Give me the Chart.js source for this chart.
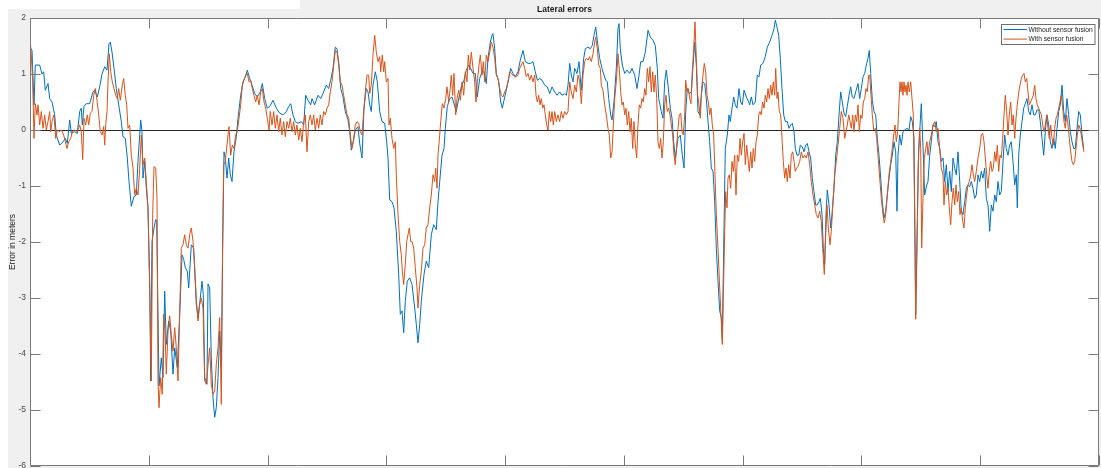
<!DOCTYPE html>
<html>
<head>
<meta charset="utf-8">
<title>Lateral errors</title>
<script src="https://cdn.jsdelivr.net/npm/chart.js@4/dist/chart.umd.min.js"></script>
<style>
  html, body { margin: 0; padding: 0; background: #ffffff; }
  canvas { display: block; }
</style>
</head>
<body>
<canvas id="chart" width="1101" height="468"></canvas>
<script>
// ---- labels ----
const chartTitle = 'Lateral errors';
const yAxisLabel = 'Error in meters';
const seriesLabels = ['Without sensor fusion', 'With sensor fusion'];
const seriesColors = ['#0072BD', '#D95319'];

// ---- axes ----
const yMin = -6, yMax = 2, yStep = 1;
const sampleCount = 1069;     // length of the run, in samples
const xTickIntervals = 9;      // evenly spaced x ticks (labels hidden)

// ---- lateral error without sensor fusion (sample, metres) ----
const noFusionT = [
  0,2,4,5.3,9.7,12,13.7,15.3,18,19.7,
  22,24.7,26.3,29.7,33,35.3,37.3,39.7,41.3,44.7,
  47.3,49.7,51.3,52.3,54,56.3,59.7,63,64.7,67.3,
  69.7,72,74.7,77,79,80.3,82,84,86.3,88.7,
  91.3,93,95.3,97.3,99,101.3,104,106.3,108,110.7,
  112,113,114.7,116.3,118,119.7,120.7,122,124,125.7,
  126.7,129,131.3,133,134.7,136.3,138.7,140.7,143,144.7,
  147.3,149.7,152,153.7,155.3,157.3,158.7,161.3,163.7,166.3,
  168,170.3,172,173.3,174.7,177,178,179.7,181.3,183,
  184.7,186.3,188,189.7,191.3,192.7,194,195.3,197,198.7,
  200.3,202,204,206.3,208,210.7,213,215.3,217.3,219.7,
  222,224.7,227.3,230.3,232.3,234.7,237.3,239.7,243,246.3,
  249.7,253,256.3,258.7,260.7,263,265.3,268,271.3,273.7,
  275.7,278,280.7,282,284.7,288,290.7,293,296.3,298.7,
  300.7,303,305.3,307,309,310.7,313,315.3,318,319.7,
  321.3,323.3,325.3,328,329.7,332,334,336.3,338,339.7,
  341.3,343,345.3,347.3,349.7,352,354.7,356.7,358,359.7,
  362,364,366.3,368.7,370.3,372,373.7,375.3,377.3,379.7,
  382,384.7,386.3,388,389.7,391.3,394,396.3,398.7,401.3,
  403.7,406.3,408,410.3,412,414,415.3,417.3,419.7,422,
  424,426.3,428.7,431.3,434,436.3,438.7,440.7,443,445.3,
  447.3,449.7,452,454,456.3,458,460.3,462,463,464.7,
  466.3,468.7,470.7,472.3,474,476.3,478.7,480.7,483,485.3,
  488,490.3,493,495.3,498,500.7,503,505.3,507.3,509.7,
  512,514.7,517.3,519.7,522,524.7,527,529.7,532,534.7,
  536.3,538,539.7,541.3,543,544.7,547,549,551.3,553.7,
  555.3,558,560.3,562.3,564,565.7,567.3,569.7,572,574,
  575.7,577.3,578.7,580.7,582,584,586.3,588,589,590.3,
  592.3,594.7,597,599.7,602,604.7,607,609,610.7,613,
  615.3,618,620.3,623,625.3,627.3,628.7,631.3,633,634.7,
  636.3,638,640.3,642,643.7,645.3,648,650.3,652.3,654,
  655.7,657.3,659.3,661.3,663.3,664.7,666.3,668,669.7,671.3,
  673,674.7,676.3,678,679.7,681.3,683,684.7,686.3,688,
  689.7,691.3,692.3,693.7,695.3,697.3,699,700.3,701.3,703.7,
  705.3,707,709,710.7,712.3,714,716.3,718,719.7,721.3,
  723,725.3,727.3,729,730.7,733,735.3,737.3,739.7,742,
  744,745.3,747,748.7,750.3,752,753.7,755.3,757.3,759,
  760.7,762.3,764,765.3,767,768.7,770.3,772.3,774,775.7,
  777.3,779,780.7,782.3,784,785.7,787.3,789,790.3,792,
  793.3,794.7,796,797.3,799,800.7,802,804,805.7,807.3,
  809,810.7,812.3,814,815.7,817.3,819,820.7,822.3,824,
  825.7,828,829.7,831.3,833,834.7,836.3,838,839.3,840.7,
  842.3,844,845.7,847.3,849,850.7,852.3,854,855.7,857.3,
  859,860.7,862.3,864,865.7,867,868,869.7,871.3,873,
  874.7,877,879,880.7,882.3,884,885.7,888.5,891.3,893,
  894.7,896.5,898,899.7,901.3,903,904.7,906.3,908,909.7,
  911.3,913,914.7,916.3,918,919.7,921.3,923,924.7,926.3,
  928,929.7,931.3,933,934.7,936.3,938,939.7,941.3,943,
  944.7,946.3,948,949.7,951.3,953,954.7,956.3,958,959.7,
  961.3,963,964.7,966.3,968,969.7,971.3,973,974.7,976.3,
  978,979.7,981.3,983,984.7,986.3,987.3,988.7,990.3,992,
  993.7,995.3,997,998.7,1000.3,1002,1003.7,1005.3,1007,1008.7,
  1010.3,1012,1013.7,1015.3,1017,1018.7,1020.3,1022,1023.7,1025.3,
  1027,1028.7,1030.3,1032,1033.7,1035.3,1037,1038.7,1040.3,1042,
  1043.7,1045.3,1047,1048.7,1050.3,1052,1053.7
];
const noFusionErr = [
  1.48,1.42,0.45,1.16,1.16,1.0,1.04,0.71,0.83,0.56,
  0.5,0.27,-0.09,-0.27,-0.21,-0.15,-0.24,0.18,-0.06,-0.03,
  -0.06,0.33,0.39,0.09,0.42,0.47,0.47,0.68,0.71,0.59,
  0.77,1.0,1.13,1.07,1.54,1.57,1.39,1.1,0.74,0.45,
  0.15,-0.12,-0.15,-0.5,-0.92,-1.36,-1.19,-1.16,-0.56,0.18,
  -0.03,-0.86,-0.56,-1.04,-1.39,-2.7,-4.48,-1.99,-1.75,-1.6,
  -1.63,-4.57,-4.07,-4.42,-2.88,-3.83,-3.41,-3.59,-4.36,-3.89,
  -4.24,-3.29,-2.23,-2.31,-2.46,-2.52,-2.82,-2.05,-2.11,-3.12,
  -3.35,-3.0,-2.7,-2.94,-4.42,-4.54,-2.75,-2.82,-4.07,-4.78,
  -5.13,-4.96,-4.42,-3.59,-4.24,-2.11,-0.39,-0.5,-0.86,-0.5,
  -0.8,-0.92,-0.39,-0.12,0.21,0.62,0.86,0.95,1.07,0.92,
  0.8,0.65,0.59,0.68,0.83,0.56,0.39,0.42,0.53,0.39,
  0.3,0.27,0.33,0.42,0.47,0.27,0.15,0.12,0.15,0.09,
  0.62,0.53,0.45,0.56,0.45,0.62,0.56,0.65,0.8,0.74,
  0.89,1.1,1.48,1.45,1.16,0.74,0.59,0.33,0.18,-0.03,
  -0.36,-0.21,0,0.06,-0.24,-0.5,0.39,0.74,0.68,0.45,
  0.33,0.8,1.04,0.86,0.33,0.15,0.12,-0.21,-0.5,-1.25,
  -1.28,-1.39,-1.81,-2.58,-3.29,-3.23,-3.62,-3.06,-2.7,-2.64,
  -2.76,-3.18,-3.47,-3.8,-3.47,-3.06,-2.58,-2.34,-2.46,-1.87,
  -1.69,-1.78,-1.28,-0.8,-0.45,-0.33,0.03,0.42,0.56,0.59,
  0.47,0.33,0.56,0.77,0.89,1.07,1.16,1.1,1.01,1.01,
  0.59,0.92,1.04,1.04,0.83,1.28,1.57,1.69,1.72,1.45,
  1.01,0.86,0.5,0.39,0.53,0.71,0.92,1.1,1.01,0.95,
  1.04,1.25,1.42,1.22,1.19,1.19,1.22,1.04,0.89,0.92,
  0.89,0.8,0.77,0.65,0.77,0.68,0.62,0.68,0.62,0.65,
  0.62,0.8,1.19,0.98,0.86,1.1,1.01,1.22,0.71,1.28,
  1.45,1.48,1.45,1.51,1.69,1.84,1.6,1.28,1.1,0.98,
  0.89,0.86,0.56,0.27,0.18,0.5,1.1,1.81,1.9,1.45,
  1.16,1.01,1.07,1.01,1.1,0.98,0.74,0.98,1.22,1.22,
  1.39,1.78,1.66,1.6,1.51,1.1,0.56,0.33,0.21,0.86,
  1.07,0.8,0.39,0.21,-0.21,-0.5,-0.15,-0.09,-0.45,-0.68,
  0.33,0.74,0.65,0.68,1.22,1.57,1.16,0.33,0.27,0.62,
  0.86,0.83,0.56,0.15,-0.21,-0.68,-0.74,-1.28,-2.11,-2.7,
  -3.23,-3.35,-3.74,-2.11,-0.33,-0.09,0.27,0.15,0.3,0.59,
  0.45,0.39,0.74,0.5,0.45,0.71,0.59,0.53,0.45,0.59,
  0.45,0.5,0.98,0.95,1.16,1.19,1.31,1.48,1.57,1.69,
  1.81,1.96,1.84,1.69,1.28,0.74,0.27,0.15,0.15,0.03,
  0.09,0.12,-0.03,-0.33,-0.45,-0.45,-0.27,-0.3,-0.39,-0.27,
  -0.24,-0.39,-0.5,-0.86,-1.1,-1.34,-1.34,-1.28,-1.22,-1.51,
  -2.11,-2.4,-1.51,-1.07,-1.34,-1.75,-1.51,-1.04,-0.45,-0.21,
  0.27,0.68,0.5,0.3,0.24,0.42,0.62,0.77,0.59,0.56,
  0.68,0.83,0.56,0.74,0.95,1.01,1.16,1.28,1.42,1.01,
  0.53,0.33,0.27,-0.15,-0.45,-0.86,-1.28,-1.57,-1.45,-1.16,
  -0.86,-0.62,-0.45,-0.21,-0.39,-1.45,-0.45,-0.09,-0.27,-0.03,
  0,0.03,0,0.24,0.15,-0.15,-3.3,-0.4,0.47,-0.3,
  -1.16,-1.0,-0.92,-0.45,-0.21,0.09,0.06,0.15,-0.21,-0.33,
  -0.56,-0.5,-0.92,-0.62,-1.1,-0.74,-1.1,-0.5,-0.68,-0.8,
  -0.39,-0.92,-1.45,-1.51,-1.28,-1.04,-0.98,-1.01,-0.92,-1.04,
  -1.22,-1.16,-0.8,-0.92,-0.74,-0.86,-0.68,-1.22,-1.34,-1.81,
  -1.34,-1.45,-1.16,-1.28,-0.92,-1.16,-1.1,-0.56,-0.09,-0.33,
  -0.45,-0.27,-0.21,-0.56,-0.98,-0.8,-1.39,-0.45,-0.09,0.15,
  0.39,0.47,0.56,0.33,0.27,0.45,0.27,0.27,0.36,0.36,
  0.15,-0.15,-0.45,-0.03,0.27,0.09,-0.21,-0.33,-0.15,-0.33,
  0.03,0.33,0.45,0.8,0.33,0.15,0.56,0.27,-0.03,-0.21,
  -0.33,-0.33,0.03,0.33,0.27,-0.09,-0.33
];

// ---- lateral error with sensor fusion (sample, metres) ----
const fusionT = [
  0,1.3,2.7,4,5.3,7,8,9.7,11.3,13,
  14.7,16.3,18,19.7,20.7,22,24,25.7,27.3,29.7,
  31.3,33.7,35.3,37,38.7,40.7,42.3,44.7,47.3,49.7,
  51.3,52.7,54,55.7,57.3,58.7,60.3,62,63.7,65.3,
  67,68.7,70.3,72,73.7,74.7,75.7,77,78,79.3,
  80.7,82.3,84,85.7,87.3,88.7,90.3,92.3,93.7,95.3,
  96.7,98,99.7,101.3,103,104.7,106.3,108,109.7,111.3,
  113,114.7,116.3,118,119.7,121.3,122.7,124,125.7,127,
  128,129,130.7,132.3,133.7,135,136.3,138,139.7,141.3,
  143,144.7,146.3,148,149.7,151.3,153,154.7,156.3,158,
  159.7,161.3,163,164.7,166.3,168,169.7,171.3,173,174.7,
  176.3,178,179.7,181.3,183,184.7,186.3,188,189.7,191.3,
  192.7,193.7,195.3,197.3,199,200.7,202.3,204,205.7,207.3,
  209,210.7,212.3,214,215.7,217.3,219,220.7,222.3,224,
  225.7,227.3,229,230.7,232.3,234,235.7,237.3,239,240.3,
  242,243.7,245.3,247,248.7,250.3,252,253.7,255.3,257,
  258.7,260.3,262,263.7,265.3,267,268.7,270.3,272,273.7,
  275.3,277,278.7,280.3,282,283.7,285.3,287,288.7,290.3,
  292,293.7,295.3,297,298.7,300.3,302,303.7,305.3,307,
  308.7,310.3,312,313.7,315.3,317,318.7,320.3,322,323.7,
  325.3,327,328.7,330.3,332,333.7,335.3,337,338.7,339.7,
  341.3,343,344.7,346.3,348,349.7,350.7,352.3,353.7,354.7,
  356.3,358,359,360.3,362,363.7,365.3,366.3,368,369.7,
  371.3,372.3,373.7,375.3,376.7,378,379.3,380.7,382,383.7,
  385.3,387,388,389.7,391.3,393,394.7,396.3,398,399.7,
  401.3,403,404.7,405.7,407,408,409.7,410.7,412.3,414,
  415.7,417,418.7,420,421.3,422.7,424,425.7,427,428.7,
  430.3,432,433.7,435.3,437,438.3,439.7,441.3,443,444.7,
  446,447.3,449,450.3,452,453.3,454.7,456.3,458,459.7,
  461.3,463,464.7,466.3,468,469.7,471.3,473,474.7,476.3,
  478,479.7,481.3,483,484.7,486.3,488,489.7,491.3,493,
  494.7,496.3,498,499.7,501.3,503,504.7,506,507.3,508.7,
  510,511.3,512.7,514,515.3,516.7,518,519.3,520.7,522,
  523.3,524.7,526.3,528,529.7,531.3,533,534.7,536.3,538,
  539.7,541.3,543,544.7,546.3,548,549.7,551.3,553,554.7,
  556.3,558,559.7,561.3,563,564.7,565.7,567.3,568.7,570.3,
  571.3,573,574.7,576.3,578,579.3,580.7,582,583,584.7,
  586.3,588,589.7,590.7,592,593.3,594.7,596,597.3,598.7,
  600,601.3,602.7,604,605.3,606.7,608,609.3,610.7,612,
  613.3,614.7,616,617.3,618.7,620,621.3,622.7,624,625.3,
  626.7,628,629.3,630.7,632,633.3,634.7,636,637.3,638.7,
  640,641.3,642.7,644,645.3,646.7,648,649.3,650.7,652,
  653.3,654.7,655.7,657,658.3,659.7,661,662.3,663.7,665,
  666.3,667.7,669,670.3,671.7,673,674.3,675.7,677,678.3,
  679.7,681,682.3,683.7,685,686.3,688,689.7,691.3,692.3,
  693.3,694.7,695.7,697,698,699.3,700.7,702,703.3,704.7,
  706,707.3,708.7,710,711.3,712.7,714,715.3,716.7,718,
  719.3,720.7,722,723.3,724.7,726,727.3,728.7,730,731.3,
  732.7,734,735.3,736.7,738,739.3,740.7,742,743.3,744.7,
  745.7,747,748,749.3,750.7,752,753.3,754.7,756,757.3,
  758.7,760,761.3,762.7,764,765.3,766.7,768,769.7,771.3,
  773,774.7,776.3,778,779.7,781.3,783,784.7,786.3,788,
  789.7,791.3,792.7,794.3,795.7,797,798.3,800,801.3,803,
  804.7,806.3,808,809.7,811.3,813,814.7,816,817.3,818.7,
  820,821.3,822.7,824,825.3,826.7,828,829.3,830.7,832,
  833.3,834.7,836,837.3,838.7,839.7,841,842.3,843.7,845.3,
  846.7,848,849.7,851.3,853,854.3,855.7,857.3,859,860.7,
  862.3,863.7,865,866.3,867.7,869,870,871,872,873,
  874,875,876,877,878,879.3,880.7,882,883.3,884.7,
  885.7,887,888.3,889.7,890.7,891.7,893,894.3,895.7,897,
  898,899.7,901.3,903,904.7,906.3,908,909.7,911.3,913,
  914,915.3,916.7,918,919.3,920.7,922,923.3,924.7,926,
  927.3,928.7,930,931.3,932.7,934,935.3,936.7,938,939.3,
  940.7,942,943.3,944.7,946.3,948,949.7,951.3,952.7,954,
  955.3,956.7,958,959.3,960.7,962,963.3,964.7,966,967.3,
  968.7,970,971.3,972.7,974,975.3,976.7,978,979.3,980.7,
  982,983.3,984.7,986,987.3,988.7,990,991.3,992.7,994,
  995.3,996.7,998,999.3,1000.7,1002,1003.3,1004.7,1006,1007.3,
  1008.7,1010,1011.3,1012.7,1014,1015.3,1016.7,1018,1019.3,1020.7,
  1022,1023.3,1024.7,1026,1027.3,1028.7,1030,1031.3,1032.7,1034,
  1035.3,1036.7,1038,1039.3,1040.7,1042,1043.3,1044.7,1046,1047.3,
  1048.7,1050,1051.3,1052.7,1054
];
const fusionErr = [
  1.66,1.34,0.86,-0.15,0.47,0.27,0.45,0.09,0.33,0.03,
  0.27,0,0.15,0.33,-0.03,0.15,0.27,-0.15,0,-0.03,
  0,-0.09,-0.21,-0.33,-0.21,-0.15,-0.03,0,-0.03,0.09,
  -0.03,-0.53,0.21,0.09,0.27,0.09,0.3,0.33,0.62,0.74,
  0.53,0.27,-0.03,-0.09,0.06,-0.27,0.09,0.33,0.86,1.36,
  1.04,0.86,0.74,0.62,0.56,0.74,0.53,0.8,0.92,0.62,
  0.45,0.03,0.09,-0.45,-0.68,-1.16,-1.04,-1.16,-0.68,-0.09,
  -0.62,-0.5,-0.92,-1.39,-2.88,-4.48,-1.51,-0.65,-0.68,-1.22,
  -4.48,-4.96,-4.42,-4.72,-3.29,-3.59,-4.36,-3.59,-3.32,-3.65,
  -3.95,-3.53,-3.89,-4.48,-3.29,-2.11,-2.05,-1.87,-2.05,-2.11,
  -1.87,-1.75,-1.99,-2.46,-3.0,-3.41,-3.12,-3.0,-3.18,-4.48,
  -4.54,-4.2,-3.89,-4.54,-4.72,-4.66,-4.18,-3.89,-3.35,-4.9,
  -1.81,-0.62,-0.56,-0.21,0.06,-0.45,-0.27,-0.33,-0.09,-0.03,
  0.21,0.45,0.8,0.89,0.98,1.01,0.86,0.89,0.74,0.62,
  0.5,0.62,0.45,0.68,0.74,0.5,0.39,0.21,0,0.33,
  0.09,0.33,0.03,0.27,-0.03,0.21,-0.09,0.15,-0.12,0.15,
  0.03,0.21,-0.03,0.15,-0.09,0.09,-0.18,0.03,-0.21,0.15,
  0.27,-0.39,0.15,0.27,0.09,0.27,0,0.21,0.03,0.27,
  0.09,0.33,0.27,0.39,0.45,0.68,0.86,1.16,1.42,1.39,
  1.16,0.86,0.8,0.62,0.45,0.27,0.21,-0.09,-0.33,-0.15,
  0.09,0.15,0.12,-0.03,-0.09,0.33,0.68,0.98,0.98,0.65,
  0.8,1.34,1.69,1.39,1.22,1.31,1.04,1.34,1.04,1.22,
  0.86,0.92,0.09,0.21,-0.15,-0.33,-0.21,-0.8,-1.51,-1.99,
  -2.23,-2.52,-2.76,-2.4,-1.99,-1.87,-1.75,-1.99,-1.99,-2.11,
  -2.46,-2.82,-3.18,-2.76,-2.52,-2.11,-2.05,-1.75,-1.69,-1.39,
  -1.16,-0.8,-0.92,-0.68,-1.04,-0.45,-0.09,0.15,0.47,0.39,
  0.56,0.77,0.5,0.71,0.98,0.62,1.01,0.27,0.56,0.71,
  0.53,0.86,0.62,1.04,0.86,1.34,1.07,1.39,1.1,0.86,
  0.5,0.86,1.16,1.34,0.98,1.22,0.86,1.34,1.22,1.39,
  1.57,1.48,1.28,0.98,0.92,0.74,0.62,0.59,0.68,0.74,
  0.86,1.04,1.01,0.98,0.95,0.95,0.98,1.1,1.16,1.22,
  1.1,0.95,1.01,0.89,0.98,0.86,0.98,0.62,0.5,0.62,
  0.45,0.56,0.39,0.45,0.27,0.09,0,0.33,0.15,0.33,
  0.09,0.33,0.15,0.27,0.15,0.33,0.21,0.33,0.27,0.33,
  0.86,0.68,0.56,0.8,0.68,0.98,0.86,0.47,0.98,1.22,
  1.28,1.25,1.31,1.22,1.36,1.57,1.66,1.45,1.16,1.1,
  0.8,0.71,0.45,0.27,0.03,-0.09,-0.5,-0.39,-0.03,0.56,
  0.86,1.36,0.98,0.68,0.45,0.5,0.27,0.39,0.09,0.33,
  -0.03,0.21,-0.33,0.15,-0.27,-0.5,0.09,0.45,0.39,0.56,
  0.5,0.74,0.62,1.1,0.86,1.13,0.68,1.04,0.68,0.98,
  0.56,-0.21,-0.33,-0.15,-0.5,-0.21,0.45,0.62,0.33,0.39,
  0.27,0.09,-0.09,-0.45,-0.62,-0.27,0.03,0.27,0.3,-0.03,
  -0.09,0.27,0.89,0.68,0.74,0.56,0.47,1.04,1.45,1.93,
  1.28,0.62,0.45,0.21,0.74,0.98,1.19,1.04,0.62,0.5,
  0.27,0.39,0.09,-0.09,-0.8,-1.51,-2.11,-2.82,-3.41,-3.83,
  -3.0,-1.81,-1.1,-1.39,-0.86,-0.8,-1.04,-0.56,-0.74,-0.45,
  -1.16,-0.45,-0.56,-0.15,-0.45,-0.21,-0.06,-0.62,-0.27,-0.5,
  -0.74,-0.39,-0.68,-0.33,-0.56,-0.21,-0.09,0.27,0.33,0.27,
  0.5,0.39,0.62,0.5,0.74,0.56,0.8,0.62,0.86,0.62,
  1.1,0.56,0.68,0.33,0.27,-0.15,-0.56,-0.86,-0.68,-0.92,
  -0.62,-0.86,-0.45,-0.39,-0.56,-0.74,-0.68,-0.65,-0.56,-0.39,
  -0.5,-0.45,-0.5,-0.39,-0.62,-0.92,-1.16,-1.34,-1.51,-1.57,
  -1.45,-1.63,-2.11,-2.58,-1.87,-1.34,-1.75,-2.05,-1.81,-1.28,
  -0.8,-0.56,-0.27,0.03,0.33,0.21,-0.15,-0.03,0.09,0.27,
  0.15,0.03,0.27,-0.03,0.27,0.15,0.45,-0.03,0.27,0.21,
  0.5,0.56,0.74,0.68,0.98,0.98,0.62,0.27,0,0.03,
  -0.15,-0.45,-0.86,-1.22,-1.51,-1.66,-1.51,-1.16,-0.8,-0.56,
  -0.33,-0.09,0.09,-0.21,-0.03,0.5,0.86,0.68,0.86,0.62,
  0.86,0.68,0.8,0.62,0.86,0.68,0.86,0.56,0.27,-1.51,
  -3.38,-2.11,-0.62,0.03,-0.33,-2.11,-1.22,-0.5,-0.33,-0.21,
  -0.45,-0.21,-0.09,0.09,0.15,-0.03,0.03,-0.33,-0.68,-0.8,
  -1.34,-0.92,-1.16,-1.04,-1.39,-1.69,-1.28,-1.04,-1.34,-0.98,
  -1.28,-1.1,-1.51,-1.39,-1.63,-1.75,-1.39,-1.16,-0.98,-0.92,
  -0.8,-0.62,-0.8,-0.92,-0.74,-0.5,-0.33,-0.09,-0.06,-0.21,
  -0.5,-0.8,-1.04,-0.74,-0.56,-0.74,-0.68,-0.39,-0.56,-0.27,
  -0.74,-0.45,-0.5,-0.15,0.27,0.62,0.33,-0.09,0.27,0.5,
  0.09,0.27,-0.15,0.21,0.45,0.68,0.8,0.92,0.98,1.01,
  0.86,0.92,0.68,0.45,0.5,0.56,0.62,0.8,0.56,0.45,
  0.39,0.33,0.27,0.09,-0.03,0.09,0.27,0.03,-0.15,0.09,
  -0.15,-0.27,0.03,0.21,0.27,0.39,0.5,0.62,0.39,0.15,
  0.03,0.27,0.09,-0.15,-0.39,-0.56,-0.62,-0.56,-0.33,-0.09,
  0.09,0.03,-0.09,-0.27,-0.39
];

const toPoints = (t, v) => t.map((x, i) => ({ x, y: v[i] }));

const FONT = '"Liberation Sans", Arial, Helvetica, sans-serif';

// Figure background, axes box with inward ticks, title and boxed legend.
const figureDecor = {
  id: 'figureDecor',
  beforeDraw(chart) {
    const { ctx, width, height, chartArea: a } = chart;
    ctx.save();
    ctx.fillStyle = '#ffffff';
    ctx.fillRect(0, 0, width, height);
    ctx.fillStyle = '#f0f0f0';
    ctx.fillRect(8, 9, width - 8, height - 9);
    ctx.fillRect(300, 0, width - 300, 9);
    ctx.fillStyle = '#ffffff';
    ctx.fillRect(a.left, a.top, a.right - a.left, a.bottom - a.top);
    ctx.restore();
  },
  afterDatasetsDraw(chart) {
    const { ctx, chartArea: a, scales } = chart;
    const xs = scales.x, ys = scales.y;
    const L = Math.round(a.left) + 0.5, R = Math.round(a.right) - 0.5;
    const T = Math.round(a.top) + 0.5, B = Math.round(a.bottom) - 0.5;
    const tick = 10;
    ctx.save();
    ctx.strokeStyle = '#7a7a7a';
    ctx.lineWidth = 1;
    ctx.beginPath();
    ctx.rect(L, T, R - L, B - T);
    xs.ticks.forEach(t => {
      const px = Math.round(xs.getPixelForValue(t.value)) + 0.5;
      ctx.moveTo(px, B); ctx.lineTo(px, B - tick);
      ctx.moveTo(px, T); ctx.lineTo(px, T + tick);
    });
    ys.ticks.forEach(t => {
      const py = Math.round(ys.getPixelForValue(t.value)) + 0.5;
      ctx.moveTo(L, py); ctx.lineTo(L + tick, py);
      ctx.moveTo(R, py); ctx.lineTo(R - tick, py);
    });
    ctx.stroke();

    // title
    ctx.fillStyle = '#1a1a1a';
    ctx.font = 'bold 8.5px ' + FONT;
    ctx.textAlign = 'center';
    ctx.textBaseline = 'middle';
    ctx.fillText(chartTitle, (a.left + a.right) / 2, 10);

    // legend
    const bw = 93.5, bh = 20;
    const bx = Math.round(a.right - 5 - bw) + 0.5, by = Math.round(a.top + 6) + 0.5;
    ctx.fillStyle = '#ffffff';
    ctx.fillRect(bx, by, bw, bh);
    ctx.strokeStyle = '#6e6e6e';
    ctx.strokeRect(bx, by, bw, bh);
    ctx.font = '6.7px ' + FONT;
    ctx.textAlign = 'left';
    chart.data.datasets.forEach((ds, i) => {
      const ly = by + 5 + i * 9.6;
      ctx.strokeStyle = ds.borderColor;
      ctx.beginPath();
      ctx.moveTo(bx + 2, ly); ctx.lineTo(bx + 25.5, ly);
      ctx.stroke();
      ctx.fillStyle = '#1a1a1a';
      ctx.fillText(ds.label, bx + 27, ly + 0.5);
    });
    ctx.restore();
  }
};

new Chart(document.getElementById('chart'), {
  type: 'line',
  data: {
    datasets: [
      {
        label: seriesLabels[0],
        data: toPoints(noFusionT, noFusionErr),
        borderColor: seriesColors[0],
        borderWidth: 1,
        pointRadius: 0,
        tension: 0,
        borderJoinStyle: 'round',
        order: 2
      },
      {
        label: seriesLabels[1],
        data: toPoints(fusionT, fusionErr),
        borderColor: seriesColors[1],
        borderWidth: 1,
        pointRadius: 0,
        tension: 0,
        borderJoinStyle: 'round',
        order: 1
      }
    ]
  },
  options: {
    responsive: false,
    animation: false,
    devicePixelRatio: 1,
    events: [],
    layout: { padding: { left: 8, right: 2, top: 18, bottom: 2 } },
    plugins: {
      legend: { display: false },
      title: { display: false },
      tooltip: { enabled: false }
    },
    scales: {
      x: {
        type: 'linear',
        min: 0,
        max: sampleCount,
        ticks: { display: false },
        grid: { display: false },
        border: { display: false },
        afterBuildTicks: s => {
          s.ticks = Array.from({ length: xTickIntervals + 1 },
            (_, i) => ({ value: i * sampleCount / xTickIntervals }));
        },
        afterFit: s => {
          s.height = 0;
          s.paddingLeft = 0; s.paddingRight = 0;
        }
      },
      y: {
        type: 'linear',
        min: yMin,
        max: yMax,
        ticks: {
          stepSize: yStep,
          font: { family: FONT, size: 8.5 },
          color: '#4a4a4a',
          padding: 4
        },
        grid: {
          drawTicks: false,
          lineWidth: 1,
          color: c => (c.tick && c.tick.value === 0) ? '#262626' : 'rgba(0,0,0,0)'
        },
        border: { display: false },
        title: {
          display: true,
          text: yAxisLabel,
          font: { family: FONT, size: 8.5 },
          color: '#262626',
          padding: 0
        },
        afterFit: s => {
          s.width = 22;
          s.paddingTop = 0; s.paddingBottom = 0;
        }
      }
    }
  },
  plugins: [figureDecor]
});
</script>
</body>
</html>
